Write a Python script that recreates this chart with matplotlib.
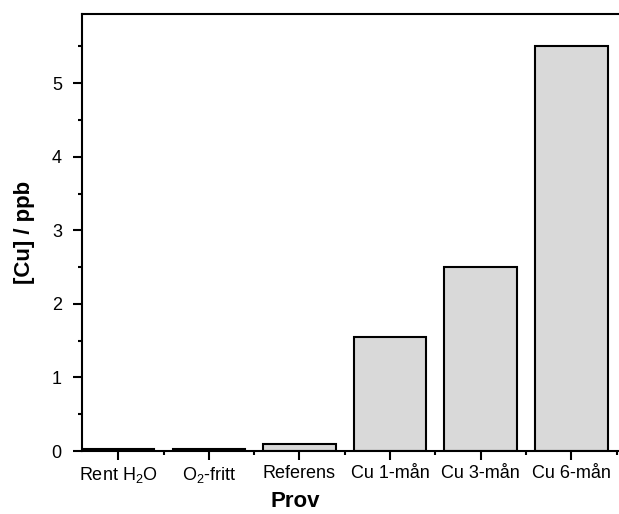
import matplotlib
matplotlib.use('Agg')
import matplotlib.pyplot as plt
from matplotlib.ticker import MultipleLocator, FixedLocator

plt.rcParams['font.family'] = ['Liberation Sans', 'DejaVu Sans']
plt.rcParams['mathtext.default'] = 'regular'

# data
prov = ['Rent H$_2$O', 'O$_2$-fritt', 'Referens', 'Cu 1-mån', 'Cu 3-mån', 'Cu 6-mån']
cu_ppb = [0.03, 0.03, 0.09, 1.55, 2.5, 5.5]

fig = plt.figure(figsize=(6.19, 5.14), dpi=100)
# axes runs past the right edge, like the reference crop
ax = fig.add_axes([82 / 619, 63 / 514, 560 / 619, 437 / 514])

x = list(range(len(prov)))
ax.bar(x, cu_ppb, width=0.8, color='#d9d9d9', edgecolor='black', linewidth=1.5)

ax.set_xlim(-0.4, 5.78)
ax.set_ylim(0, 5.94)

ax.spines['right'].set_visible(False)
for s in ['left', 'bottom', 'top']:
    ax.spines[s].set_linewidth(1.5)

ax.set_xticks(x)
ax.set_xticklabels(prov)
ax.xaxis.set_minor_locator(FixedLocator([i + 0.5 for i in x]))
ax.yaxis.set_major_locator(MultipleLocator(1))
ax.yaxis.set_minor_locator(MultipleLocator(0.5))
ax.tick_params(axis='both', which='major', direction='out', length=6.5, width=1.5, labelsize=13)
ax.tick_params(axis='both', which='minor', direction='out', length=3, width=1.5)
ax.tick_params(axis='y', pad=8)
ax.tick_params(axis='x', pad=3.5)

ax.set_xlabel('Prov', fontsize=16, fontweight='bold', labelpad=2)
ax.xaxis.set_label_coords((295 - 82) / 560, -0.092)
ax.set_ylabel('[Cu] / ppb', fontsize=16, fontweight='bold', labelpad=12)

fig.savefig('out.png', dpi=100)
